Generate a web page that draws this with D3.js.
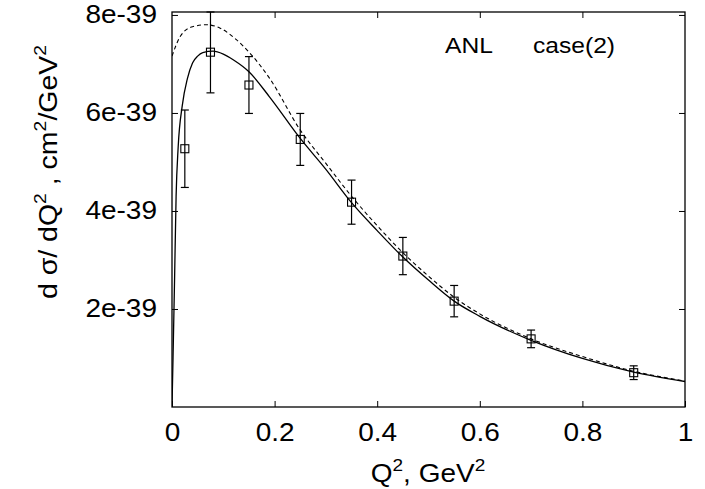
<!DOCTYPE html>
<html>
<head>
<meta charset="utf-8">
<script src="https://cdn.jsdelivr.net/npm/d3@7"></script>
<style>
  html, body { margin: 0; padding: 0; background: #fff; }
  svg { display: block; }
  text { font-family: "Liberation Sans", Arial, Helvetica, sans-serif; fill: #000; }
</style>
</head>
<body>
<svg id="chart" width="705" height="489"></svg>
<script>
// ---- data (y values in units of 1e-39 cm^2/GeV^2) ----
const unitExp = -39;
const pointQ2   = [0.025, 0.075, 0.15, 0.25, 0.35, 0.45, 0.55, 0.70, 0.90];
const pointY    = [5.27, 7.24, 6.57, 5.46, 4.18, 3.08, 2.16, 1.39, 0.70];
const pointErr  = [0.79, 0.83, 0.58, 0.53, 0.45, 0.38, 0.32, 0.18, 0.14];

const solidQ2 = [0, 0.002, 0.005, 0.008, 0.012, 0.02, 0.03, 0.04, 0.05, 0.06, 0.08, 0.10, 0.12, 0.15, 0.19, 0.25, 0.30, 0.35, 0.40, 0.45, 0.50, 0.55, 0.60, 0.70, 0.80, 0.90, 1.00];
const solidY  = [0, 1.0, 2.6, 4.3, 5.3, 6.15, 6.7, 7.02, 7.16, 7.23, 7.26, 7.2, 7.08, 6.84, 6.33, 5.48, 4.85, 4.17, 3.6, 3.06, 2.59, 2.16, 1.85, 1.36, 0.99, 0.71, 0.52];

const dashQ2 = [0, 0.016, 0.04, 0.068, 0.094, 0.126, 0.152, 0.19, 0.25, 0.30, 0.35, 0.40, 0.45, 0.50, 0.55, 0.60, 0.70, 0.80, 0.90, 1.00];
const dashY  = [7.16, 7.56, 7.76, 7.8, 7.73, 7.49, 7.22, 6.71, 5.65, 4.97, 4.3, 3.7, 3.15, 2.67, 2.24, 1.9, 1.39, 1.03, 0.73, 0.53];

const xTicks = [0, 0.2, 0.4, 0.6, 0.8, 1];
const xTickLabels = ["0", "0.2", "0.4", "0.6", "0.8", "1"];
const yTicks = [2, 4, 6, 8];
const yTickLabels = ["2e-39", "4e-39", "6e-39", "8e-39"];
const titleLeft = "ANL";
const titleRight = "case(2)";

// ---- layout ----
const L = 172, R = 685, T = 12, B = 407;
const SX = 1.12; // horizontal widening of the glyphs, as in the reference
const svg = d3.select("#chart");
const x = d3.scaleLinear().domain([0, 1]).range([L, R]);
const y = d3.scaleLinear().domain([0, 8.06]).range([B, T]);

const defs = svg.append("defs");
defs.append("clipPath").attr("id", "clip")
  .append("rect").attr("x", L).attr("y", T).attr("width", R - L).attr("height", B - T);

// frame
svg.append("rect").attr("x", L).attr("y", T).attr("width", R - L).attr("height", B - T)
  .attr("fill", "none").attr("stroke", "#000").attr("stroke-width", 1.3);

const tickLen = 6;
// bottom axis (ticks inward, labels below)
const xAxisB = d3.axisBottom(x).tickValues(xTicks).tickSizeInner(-tickLen).tickSizeOuter(0)
  .tickPadding(16).tickFormat((d, i) => xTickLabels[i]);
const gxb = svg.append("g").attr("transform", `translate(0,${B})`).call(xAxisB);
gxb.select(".domain").remove();
gxb.selectAll("text").attr("font-size", 25).attr("font-family", "Liberation Sans, Arial, sans-serif")
  .attr("transform", `scale(${SX},1)`);
// top mirror ticks
const xAxisT = d3.axisTop(x).tickValues(xTicks.filter(v => v > 0 && v < 1)).tickSizeInner(-tickLen).tickSizeOuter(0).tickFormat("");
const gxt = svg.append("g").attr("transform", `translate(0,${T})`).call(xAxisT);
gxt.select(".domain").remove();

// left axis
const yAxisL = d3.axisLeft(y).tickValues(yTicks).tickSizeInner(-tickLen).tickSizeOuter(0)
  .tickPadding(15).tickFormat((d, i) => yTickLabels[i]);
const gyl = svg.append("g").attr("transform", `translate(${L},0)`).call(yAxisL);
gyl.select(".domain").remove();
gyl.selectAll("text").attr("font-size", 25).attr("font-family", "Liberation Sans, Arial, sans-serif")
  .attr("transform", `translate(-15,0) scale(${SX},1) translate(15,0)`);
// right mirror ticks
const yAxisR = d3.axisRight(y).tickValues(yTicks).tickSizeInner(-tickLen).tickSizeOuter(0).tickFormat("");
const gyr = svg.append("g").attr("transform", `translate(${R},0)`).call(yAxisR);
gyr.select(".domain").remove();

// curves
const plot = svg.append("g").attr("clip-path", "url(#clip)");
const line = d3.line().x(d => x(d[0])).y(d => y(d[1])).curve(d3.curveMonotoneX);
plot.append("path").datum(dashQ2.map((q, i) => [q, dashY[i]]))
  .attr("d", line).attr("fill", "none").attr("stroke", "#000").attr("stroke-width", 1.1)
  .attr("stroke-dasharray", "4,3");
plot.append("path").datum(solidQ2.map((q, i) => [q, solidY[i]]))
  .attr("d", line).attr("fill", "none").attr("stroke", "#000").attr("stroke-width", 1.3);

// error bars + squares
const pts = pointQ2.map((q, i) => ({ q, v: pointY[i], e: pointErr[i] }));
const eb = svg.append("g");
const cap = 4;
pts.forEach(p => {
  const cx = x(p.q), y0 = y(p.v - p.e), y1 = Math.max(y(p.v + p.e), T);
  eb.append("line").attr("x1", cx).attr("x2", cx).attr("y1", y0).attr("y2", y1)
    .attr("stroke", "#000").attr("stroke-width", 1.2);
  eb.append("line").attr("x1", cx - cap).attr("x2", cx + cap).attr("y1", y0).attr("y2", y0)
    .attr("stroke", "#000").attr("stroke-width", 1.2);
  eb.append("line").attr("x1", cx - cap).attr("x2", cx + cap).attr("y1", y1).attr("y2", y1)
    .attr("stroke", "#000").attr("stroke-width", 1.2);
  eb.append("rect").attr("x", cx - 4).attr("y", y(p.v) - 4).attr("width", 8).attr("height", 8)
    .attr("fill", "none").attr("stroke", "#000").attr("stroke-width", 1.1);
});

// title texts
svg.append("text").attr("transform", `translate(469,53) scale(${SX},1)`).attr("text-anchor", "middle")
  .attr("font-size", 22).text(titleLeft);
svg.append("text").attr("transform", `translate(574,53) scale(${SX},1)`).attr("text-anchor", "middle")
  .attr("font-size", 22).text(titleRight);

// axis titles
const xt = svg.append("text").attr("transform", `translate(428,482) scale(${SX},1)`)
  .attr("text-anchor", "middle").attr("font-size", 25);
xt.append("tspan").text("Q");
xt.append("tspan").attr("font-size", 17).attr("dy", -11).text("2");
xt.append("tspan").attr("dy", 11).text(", GeV");
xt.append("tspan").attr("font-size", 17).attr("dy", -11).text("2");

const yt = svg.append("text").attr("transform", `translate(57,172) rotate(-90) scale(1.14,1)`)
  .attr("text-anchor", "middle").attr("font-size", 25);
yt.append("tspan").text("d σ/ dQ");
yt.append("tspan").attr("font-size", 17).attr("dy", -11).text("2");
yt.append("tspan").attr("dy", 11).text(" , cm");
yt.append("tspan").attr("font-size", 17).attr("dy", -11).text("2");
yt.append("tspan").attr("dy", 11).text("/GeV");
yt.append("tspan").attr("font-size", 17).attr("dy", -11).text("2");
</script>
</body>
</html>
